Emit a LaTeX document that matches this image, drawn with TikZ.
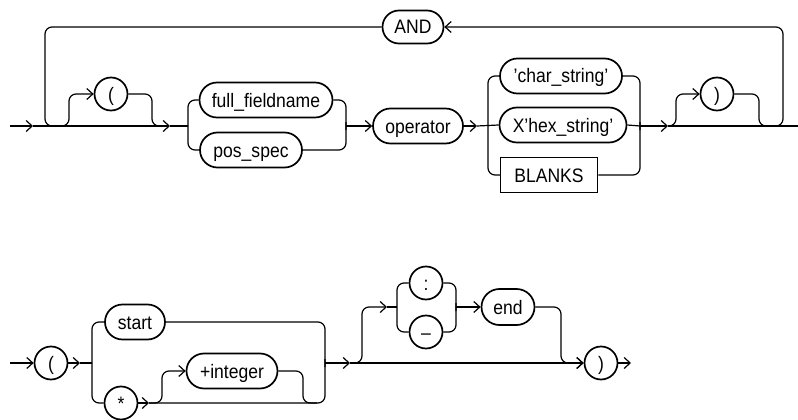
\documentclass[tikz,border=0pt]{standalone}
\usepackage{fontspec}
\setmainfont{Liberation Sans}[FakeStretch=0.9]
\usetikzlibrary{arrows.meta,shapes.misc}
\begin{document}
\begin{tikzpicture}[x=1pt,y=-1pt,
  lbl/.style={font=\fontsize{19.5}{20}\selectfont, text height=14pt, text depth=0pt, inner sep=0pt},
  term/.style={lbl, rounded rectangle, draw, line width=1.7pt, minimum height=35pt},
  circ/.style={lbl, circle, draw, line width=1.7pt, minimum size=33pt},
  kbox/.style={lbl, rectangle, draw, line width=1.5pt, minimum height=35pt},
  conn/.style={line width=1.2pt, rounded corners=7pt},
  arr/.style={conn, -{Straight Barb[length=6pt,width=11pt]}},
]
\useasboundingbox (0,0) rectangle (798,420);

% ---------- top diagram ----------
\node[circ] (lp) at (111,94) {(};
\node[term, minimum width=133pt] (ff) at (266,100) {full\_fieldname};
\node[term, minimum width=102pt] (ps) at (251,150) {pos\_spec};
\node[term, minimum width=90pt] (op) at (418,126) {operator};
\node[term, minimum width=122pt] (cs) at (561,76) {'char\_string'};
\node[term, minimum width=127pt] (hs) at (563,125) {X’hex\_string’};
\node[kbox, minimum width=97pt] (bl) at (549,175) {BLANKS};
\node[circ] (rp) at (717,94) {)};
\node[term, minimum width=61pt, minimum height=33pt] (and) at (413,27) {AND};

\coordinate (t0) at (10,126);
\coordinate (t1) at (33,126);
\coordinate (t2) at (170,126);
\coordinate (tf) at (188,126);
\coordinate (tm) at (346,126);
\coordinate (t3) at (477,126);
\coordinate (tf2) at (488,126);
\coordinate (tm2) at (640,126);
\coordinate (t4) at (668,126);
\coordinate (t5) at (798,126);

\draw[arr] (t0) -- (t1);
\draw[arr] (t1) -- (t2);
% loop back
\draw[conn] (and.west) -- (45,27) -- (45,126) -- (62,126);
\draw[arr] (770,126) -- (783,126) -- (783,27) -- (and.east);
% optional (
\draw[arr] (58,126) -- (69,126) -- (69,94) -- (lp.west);
\draw[conn] (lp.east) -- (152,94) -- (152,126) -- (166,126);
% choice 1
\draw[conn] (t2) -- (tf);
\draw[conn] (tf) -- (188,100) -- (ff.west);
\draw[conn] (tf) -- (188,150) -- (ps.west);
\draw[conn] (ff.east) -- (346,100) -- (346,130);
\draw[conn] (ps.east) -- (346,150) -- (346,122);
\draw[arr] (tm) -- (op.west);
\draw[arr] (op.east) -- (t3);
% choice 2
\draw[conn] (t3) -- (hs.west);
\draw[conn] (tf2) -- (488,76) -- (cs.west);
\draw[conn] (tf2) -- (488,175) -- (bl.west);
\draw[conn] (cs.east) -- (640,76) -- (640,130);
\draw[conn] (hs.east) -- (tm2);
\draw[conn] (bl.east) -- (640,175) -- (640,122);
\draw[arr] (tm2) -- (t4);
% optional )
\draw[arr] (t4) -- (676,126) -- (676,94) -- (rp.west);
\draw[conn] (rp.east) -- (759,94) -- (759,126) -- (773,126);
\draw[conn] (t4) -- (t5);

% ---------- bottom diagram ----------
\node[circ] (lp2) at (51,363) {(};
\node[term, minimum width=60pt] (st) at (135,322) {start};
\node[circ] (star) at (121,403) {*};
\node[term, minimum width=91pt] (int) at (232,371) {+integer};
\node[circ] (col) at (426,283) {:};
\node[circ] (dsh) at (426,332) {–};
\node[term, minimum width=53pt, minimum height=36pt] (en) at (508,307) {end};
\node[circ] (rp2) at (601,363) {)};

\coordinate (b0) at (10,363);
\coordinate (b1) at (80,363);
\coordinate (bf) at (92,363);
\coordinate (b2) at (149,403);
\coordinate (bm) at (325,363);
\coordinate (b3) at (350,363);
\coordinate (b4) at (387,307);
\coordinate (bf2) at (397,307);
\coordinate (bm2) at (456,307);
\coordinate (b5) at (631,363);

\draw[arr] (b0) -- (lp2.west);
\draw[arr] (lp2.east) -- (b1);
\draw[conn] (b1) -- (bf);
\draw[conn] (bf) -- (92,322) -- (st.west);
\draw[conn] (bf) -- (92,403) -- (star.west);
\draw[conn] (st.east) -- (325,322) -- (325,367);
\draw[arr] (star.east) -- (b2);
\draw[conn] (b2) -- (325,403) -- (325,359);
\draw[arr] (b2) -- (162,403) -- (162,371) -- (int.west);
\draw[conn] (int.east) -- (303,371) -- (303,403) -- (317,403);
\draw[arr] (bm) -- (b3);
\draw[arr] (b3) -- (rp2.west);
\draw[arr] (b3) -- (362,363) -- (362,307) -- (b4);
\draw[conn] (b4) -- (bf2);
\draw[conn] (bf2) -- (397,283) -- (col.west);
\draw[conn] (bf2) -- (397,332) -- (dsh.west);
\draw[conn] (col.east) -- (456,283) -- (456,311);
\draw[conn] (dsh.east) -- (456,332) -- (456,303);
\draw[arr] (bm2) -- (en.west);
\draw[arr] (en.east) -- (561,307) -- (561,363) -- (rp2.west);
\draw[arr] (rp2.east) -- (b5);
\end{tikzpicture}
\end{document}
